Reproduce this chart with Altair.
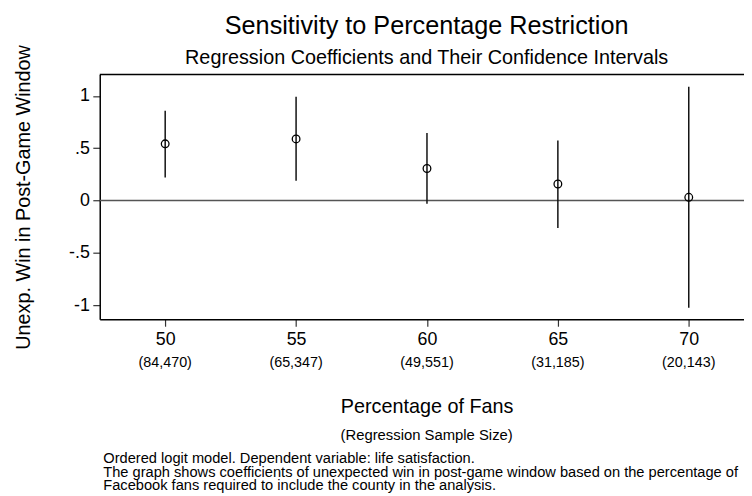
import altair as alt
import pandas as pd

# ---- data ----
PCT = [50, 55, 60, 65, 70]
COEF = [0.542, 0.589, 0.306, 0.158, 0.031]
CI_LO = [0.220, 0.189, -0.031, -0.262, -1.025]
CI_HI = [0.858, 0.993, 0.646, 0.574, 1.088]
SAMPLE = ["(84,470)", "(65,347)", "(49,551)", "(31,185)", "(20,143)"]
Y_TICKS = [-1, -0.5, 0, 0.5, 1]
Y_LABELS = ["-1", "-.5", "0", ".5", "1"]
NOTES = [
    "Ordered logit model. Dependent variable: life satisfaction.",
    "The graph shows coefficients of unexpected win in post-game window based on the percentage of",
    "Facebook fans required to include the county in the analysis.",
]

FONT = "Liberation Sans"
W, H = 651, 247.3
X_DOM = [47.5, 72.11]
Y_DOM = [-1.135, 1.204]

df = pd.DataFrame(dict(pct=PCT, coef=COEF, lo=CI_LO, hi=CI_HI, n=SAMPLE))
one = pd.DataFrame({"z": [0]})

ylabel_expr = " : ".join(
    f"datum.value == {v} ? '{l}'" for v, l in zip(Y_TICKS, Y_LABELS)
) + " : ''"

xscale = alt.Scale(domain=X_DOM, nice=False, zero=False)
yscale = alt.Scale(domain=Y_DOM, nice=False, zero=False)

x_axis = alt.Axis(
    values=PCT, format="d", title="Percentage of Fans",
    labelFontSize=18, labelColor="black", labelBaseline="alphabetic",
    labelPadding=18.7, tickSize=7, tickColor="#333", tickWidth=1.2,
    domainColor="black", domainWidth=1.5, grid=False,
    titleFontSize=20, titleFontWeight="normal", titleColor="black",
    titleBaseline="alphabetic", titleX=330.3, titleY=94, titleAlign="center",
)
y_axis = alt.Axis(
    values=Y_TICKS, labelExpr=ylabel_expr, title="Unexp. Win in Post-Game Window",
    labelFontSize=18, labelColor="black", labelPadding=3.5,
    tickSize=7, tickColor="#333", tickWidth=1.2,
    domainColor="black", domainWidth=1.5, grid=False,
    titleFontSize=20, titleFontWeight="normal", titleColor="black",
    titleBaseline="alphabetic", titleX=-71, titleY=H / 2, titleAlign="center", titleAngle=-90,
)

zero = alt.Chart(one).mark_rule(color="#555", strokeWidth=1.5).encode(
    y=alt.Y("z:Q", scale=yscale, axis=y_axis)
)
top = alt.Chart(one).mark_rule(color="black", strokeWidth=1.5).encode(
    y=alt.datum(Y_DOM[1])
)
ci = alt.Chart(df).mark_rule(color="#111", strokeWidth=1.5).encode(
    x=alt.X("pct:Q", scale=xscale, axis=x_axis),
    y=alt.Y("lo:Q", scale=yscale),
    y2="hi:Q",
)
pts = alt.Chart(df).mark_point(
    shape="circle", filled=False, size=60, color="black", strokeWidth=1.3, opacity=1
).encode(x=alt.X("pct:Q", scale=xscale), y=alt.Y("coef:Q", scale=yscale))
samples = alt.Chart(df).mark_text(
    fontSize=14.5, baseline="alphabetic", align="center", color="black", font=FONT
).encode(x=alt.X("pct:Q", scale=xscale), y=alt.value(295.6), text="n:N")
sub_x = alt.Chart(one).mark_text(
    fontSize=15, baseline="alphabetic", align="center", color="black", font=FONT
).encode(x=alt.value(330.3), y=alt.value(369.3), text=alt.value("(Regression Sample Size)"))
notes = alt.Chart(one).mark_text(
    fontSize=14.8, baseline="alphabetic", align="left", color="black", font=FONT, lineHeight=14
).encode(x=alt.value(3.6), y=alt.value(392.3), text=alt.value(NOTES))

chart = alt.layer(zero, top, ci, pts, samples, sub_x, notes).properties(
    width=W, height=H,
    autosize=alt.AutoSizeParams(type="none"),
    padding={"left": 92.7, "top": 64.7, "right": 0, "bottom": 176},
    title=alt.TitleParams(
        text="Sensitivity to Percentage Restriction",
        subtitle="Regression Coefficients and Their Confidence Intervals",
        fontSize=25.5, subtitleFontSize=20, fontWeight="normal",
        color="black", subtitleColor="black", anchor="middle", frame="group",
        dx=4.8, dy=30, offset=6, subtitlePadding=9, font=FONT, subtitleFont=FONT,
    ),
).configure(font=FONT, background="white").configure_view(stroke=None)

chart.save("out.html", embed_options={"renderer": "svg", "actions": False})
